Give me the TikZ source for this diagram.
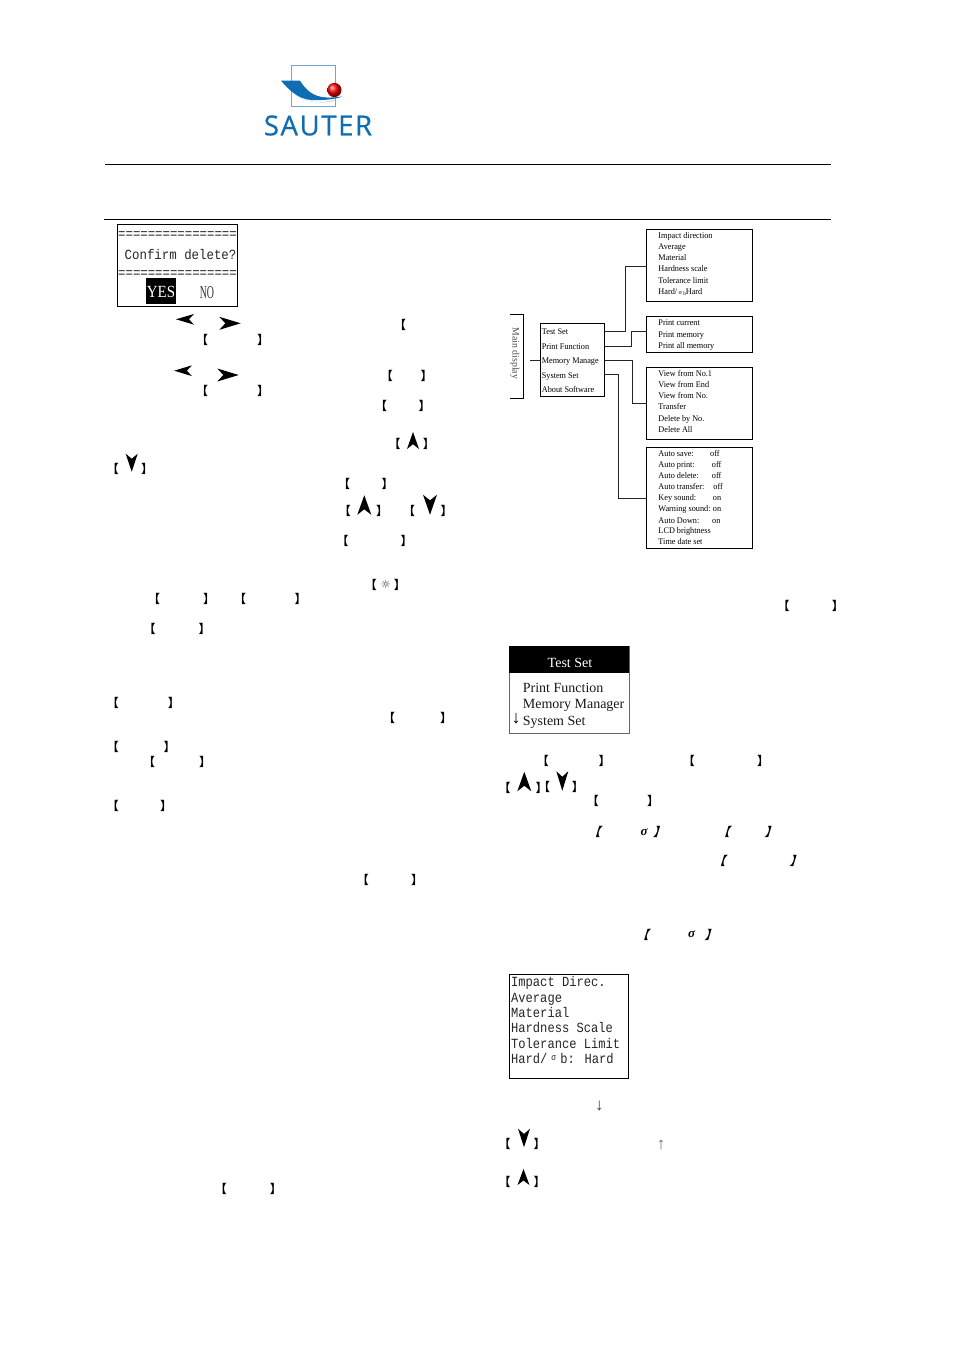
\documentclass[tikz,border=0pt]{standalone}
\usepackage{fontspec}
\setmainfont{Liberation Serif}
\newfontfamily\lmono{Liberation Mono}
\newfontfamily\logofont{Open Sans}[FakeBold=0.6,LetterSpace=6]
\newfontfamily\cjk{Noto Sans CJK SC}[BoldFont={* Bold}]
\newfontfamily\djv{DejaVu Sans}
\definecolor{sblue}{HTML}{0F6DB3}
\definecolor{slight}{HTML}{6FA8CF}
\definecolor{spale}{HTML}{BBD6EA}
\newcounter{bk}
\newcommand{\fsz}[1]{\fontsize{#1}{#1}\selectfont}
% brackets printed in the page
\newcommand{\lbk}[3][]{\stepcounter{bk}\node[bknode,#1] (bk\thebk) at ({#2-3.2},{#3+.5}) {【};}
\newcommand{\rbk}[3][]{\stepcounter{bk}\node[bknode,#1] (bk\thebk) at ({#2+3.8},{#3+.5}) {】};}
\newcommand{\bkp}[4][]{\lbk[#1]{#2}{#4}\rbk[#1]{#3}{#4}}
% x, y, rotation, length, width
\newcommand{\amark}[5]{\begin{scope}[shift={(#1,#2)},rotate=#3]
 \fill[black] (0,{-#4/2}) -- ({#5/2},{#4/2}) -- (0,{#4/2-#4*.28}) -- ({-#5/2},{#4/2}) -- cycle;\end{scope}}
\tikzset{
 x=1pt,y=-1pt,
 bknode/.style={inner sep=0pt,font={\cjk\bfseries\fsz{12}},text=black},
 ital/.style={transform shape,xslant=.3},
 rule/.style={line width=.8pt,black},
 treebox/.style={draw=black,line width=.8pt,fill=white,inner sep=0pt,outer sep=0pt},
 wire/.style={line width=.8pt,black!85},
 treetxt/.style={anchor=west,inner sep=0pt,font=\fsz{8.7},text=black,text height=.72em,text depth=.22em,transform shape,xscale=.945,yshift=-.6pt},
 lcd/.style={anchor=west,inner sep=0pt,font={\lmono\fsz{14}},transform shape,xscale=.865,text=black!85,text height=.72em,text depth=.22em,yshift=-1.8pt},
 menutxt/.style={anchor=west,inner sep=0pt,font=\fsz{14},text=black!90,text height=.72em,text depth=.22em,yshift=-2pt},
}
\begin{document}
\begin{tikzpicture}
\useasboundingbox (0,0) rectangle (954,1350);
\fill[white] (0,0) rectangle (954,1350);
% logo
\draw[slight,line width=.9pt] (291,65.7) rectangle (335.7,106);
\fill[spale] (296,95) .. controls (306,103) and (322,103.5) .. (335,100) -- (333,101.5) .. controls (318,104) and (304,102) .. (296,95) -- cycle;
\fill[sblue] (281,80.7) -- (300,80.7) .. controls (306,90) and (313,97) .. (327,97.5) .. controls (333,97.7) and (338,97) .. (342.7,96.5) .. controls (335,99.5) and (322,100.5) .. (311,100) .. controls (298,99) and (289,90) .. (281,80.7) -- cycle;
\shade[ball color=red] (334.4,90) circle (7.1);
\node[inner sep=0pt,text=sblue,font={\logofont\fsz{27.5}}] (logo) at (318,125.5) {SAUTER};
% rules
\coordinate (r1a) at (105,164.3); \coordinate (r1b) at (831,164.3);
\coordinate (r2a) at (104,219.3); \coordinate (r2b) at (831,219.3);
\draw[rule] (r1a) -- (r1b);
\draw[rule] (r2a) -- (r2b);
% confirm box
\draw[line width=.8pt,black] (117.3,224.3) rectangle (237.7,306.3);
\node[lcd,xscale=1.02] (eq1) at (118,234.3) {================};
\node[lcd,xscale=1.025] (conf) at (124.5,255.5) {Confirm delete?};
\node[lcd,xscale=1.02] (eq2) at (118,272.7) {================};
\fill[black] (146,278) rectangle (176.3,304);
\node[inner sep=0pt,text=white,font=\fsz{17},transform shape,xscale=.88] (yes) at (161,292) {YES};
\node[inner sep=0pt,text=black!80,font=\fsz{18},transform shape,xscale=.55] (no) at (207,293) {NO};
% left column marks
\amark{185}{319.3}{90}{18}{10.7}
\amark{230}{323.3}{-90}{21.4}{13}
\amark{183}{370.7}{90}{17.7}{10.7}
\amark{228}{375}{-90}{21.4}{13}
\amark{413}{440.5}{0}{17}{12}
\amark{131.7}{462.7}{180}{18}{12}
\amark{364.3}{505}{0}{19.5}{14}
\amark{430}{504.7}{180}{20}{14}
\lbk{403.3}{324.3}
\bkp{205.3}{259.3}{339.3}
\bkp{205.3}{259.3}{390.3}
\bkp{390}{422.7}{375}
\bkp{384.3}{420.7}{405.3}
\bkp{397.7}{425}{443.3}
\bkp{116}{143.3}{468.3}
\bkp{347.3}{383.7}{483.3}
\bkp{348}{378.3}{510.7}
\bkp{412.3}{442.7}{510.7}
\bkp{345.7}{402.7}{540}
\bkp{374}{396}{584}
\node[inner sep=0pt,font={\djv\fsz{11}},text=black!80] (sun) at (385.7,584) {☼};
\bkp{157.3}{205.3}{598}
\bkp{243.3}{296.7}{598}
\bkp{152.7}{200.7}{628.7}
\bkp{116}{170}{702.7}
\bkp{392.3}{442.3}{717.7}
\bkp{116}{165.7}{746.7}
\bkp{152.3}{201.3}{761.7}
\bkp{116}{162.3}{805}
\bkp{366}{413.3}{879.3}
\bkp{224}{272}{1188}
% tree
\draw[rule] (510,314.7) -- (523.3,314.7) -- (523.3,398) -- (510,398);
\node[rotate=-90,inner sep=0pt,font=\fsz{9.8},text=black!70] (maind) at (515,353.3) {Main display};
\node[treebox,minimum width=64pt,minimum height=73.4pt,anchor=north west] (mainb) at (540.7,323.3) {};
\node[treebox,minimum width=106.4pt,minimum height=72pt,anchor=north west] (b1) at (646.3,229.3) {};
\node[treebox,minimum width=106.4pt,minimum height=36pt,anchor=north west] (b2) at (646.3,316.7) {};
\node[treebox,minimum width=106.4pt,minimum height=72pt,anchor=north west] (b3) at (646.3,367.3) {};
\node[treebox,minimum width=106.4pt,minimum height=101.4pt,anchor=north west] (b4) at (646.3,447.3) {};
\node[treetxt] (m1) at (541.7,331.7) {Test Set};
\node[treetxt] (m2) at (541.7,346) {Print Function};
\node[treetxt] (m3) at (541.7,360.7) {Memory Manage};
\node[treetxt] (m4) at (541.7,375) {System Set};
\node[treetxt] (m5) at (541.7,389.3) {About Software};
\coordinate (t0) at (530,360.3);
\draw[wire] (t0) -- (mainb.west |- t0);
\coordinate (e1) at (604.7,331); \coordinate (f1) at (646.3,266);
\coordinate (e2) at (604.7,346); \coordinate (f2) at (646.3,331.3);
\coordinate (e3) at (604.7,360.3); \coordinate (f3) at (646.3,403.3);
\coordinate (e4) at (604.7,374); \coordinate (f4) at (646.3,498.3);
\draw[wire] (e1) -- (625.3,331) -- (625.3,266) -- (f1);
\draw[wire] (e2) -- (631.3,346) -- (631.3,331.3) -- (f2);
\draw[wire] (e3) -- (632.7,360.3) -- (632.7,403.3) -- (f3);
\draw[wire] (e4) -- (618.7,374) -- (618.7,498.3) -- (f4);
\node[treetxt] (a1) at (658.3,235.3) {Impact direction};
\node[treetxt] (a2) at (658.3,246.7) {Average};
\node[treetxt] (a3) at (658.3,257.7) {Material};
\node[treetxt] (a4) at (658.3,268.7) {Hardness scale};
\node[treetxt] (a5) at (658.3,280) {Tolerance limit};
\node[treetxt] (a6) at (658.3,291.3) {Hard/\,{\fsz{6.5}σ}\,{\raisebox{-1.5pt}{\fsz{5.5}b}}Hard};
\node[treetxt] (c1) at (658.3,322.3) {Print current};
\node[treetxt] (c2) at (658.3,334) {Print memory};
\node[treetxt] (c3) at (658.3,345.3) {Print all memory};
\node[treetxt] (d1) at (658.3,373.7) {View from No.1};
\node[treetxt] (d2) at (658.3,384.3) {View from End};
\node[treetxt] (d3) at (658.3,395.7) {View from No.};
\node[treetxt] (d4) at (658.3,406.7) {Transfer};
\node[treetxt] (d5) at (658.3,418.3) {Delete by No.};
\node[treetxt] (d6) at (658.3,429.3) {Delete All};
\node[treetxt] (g1) at (658.3,453.3) {Auto save:};
\node[treetxt] (g2) at (658.3,464) {Auto print:};
\node[treetxt] (g3) at (658.3,475) {Auto delete:};
\node[treetxt] (g4) at (658.3,486.7) {Auto transfer:};
\node[treetxt] (g5) at (658.3,497.7) {Key sound:};
\node[treetxt] (g6) at (658.3,508.7) {Warning sound:};
\node[treetxt] (g7) at (658.3,520) {Auto Down:};
\node[treetxt] (g8) at (658.3,530.7) {LCD brightness};
\node[treetxt] (g9) at (658.3,541.7) {Time date set};
\node[treetxt] (v1) at (710,453.3) {off};
\node[treetxt] (v2) at (711.7,464) {off};
\node[treetxt] (v3) at (711.7,475) {off};
\node[treetxt] (v4) at (713.3,486.7) {off};
\node[treetxt] (v5) at (712.7,497.7) {on};
\node[treetxt] (v6) at (712.7,508.7) {on};
\node[treetxt] (v7) at (712,520) {on};
% test set menu
\bkp{786.7}{834}{605.7}
\draw[line width=.7pt,black!60] (509.3,646) rectangle (629.3,733.3);
\fill[black] (509.3,646) rectangle (629.3,673);
\node[inner sep=0pt,text=white,font=\fsz{14}] (ts) at (570,662.5) {Test Set};
\node[menutxt] (p1) at (522.7,687.7) {Print Function};
\node[menutxt] (p2) at (522.7,704.3) {Memory Manager};
\node[menutxt] (p3) at (522.7,720.7) {System Set};
\node[inner sep=0pt,font=\fsz{18}] (pa) at (516,719) {↓};
% right column marks
\bkp{546}{600.7}{760.7}
\bkp{692}{759.3}{760.7}
\amark{524.3}{781.5}{0}{19.5}{14}
\bkp{507.7}{537.7}{787.3}
\amark{562.3}{781}{180}{19.5}{12}
\bkp{547.3}{574}{786.7}
\bkp{596}{649.3}{800.7}
\bkp[ital]{599}{656.7}{831.7}
\node[inner sep=0pt,font={\bfseries\itshape\fsz{13}}] (s1) at (644,831.7) {σ};
\bkp[ital]{728.3}{768.3}{831.7}
\bkp[ital]{724}{793.3}{860.7}
\bkp[ital]{647.3}{708.3}{934.3}
\node[inner sep=0pt,font={\bfseries\itshape\fsz{13}}] (s2) at (691.7,934.3) {σ};
% impact box
\draw[line width=.8pt,black] (509.3,974.3) rectangle (628.7,1078.7);
\node[lcd] (i1) at (511,981.7) {Impact Direc.};
\node[lcd] (i2) at (511,997.7) {Average};
\node[lcd] (i3) at (511,1013) {Material};
\node[lcd] (i4) at (511,1028.3) {Hardness Scale};
\node[lcd] (i5) at (511,1044) {Tolerance Limit};
\node[lcd] (i6) at (511,1059) {Hard/\hspace{4.5pt}\raisebox{2.5pt}{\fsz{9}σ}\hspace{5pt}b: Hard};
\node[inner sep=0pt,font=\fsz{17},text=black!75] (da) at (599.3,1105.5) {↓};
\node[inner sep=0pt,font=\fsz{17},text=black!55] (ua) at (661,1144.5) {↑};
\amark{524}{1138}{180}{18.5}{12}
\bkp{507.7}{535.7}{1143.3}
\amark{523.5}{1177}{0}{16}{12}
\bkp{507.7}{535.7}{1181}
\end{tikzpicture}
\end{document}
